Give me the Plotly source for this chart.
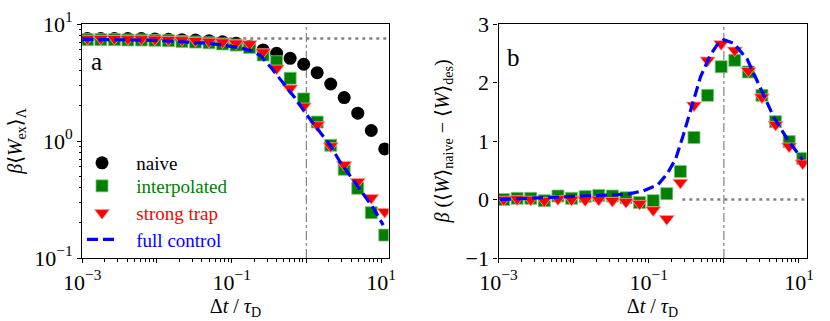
import plotly.graph_objects as go

# ---------------- data ----------------
dt = [0.00117, 0.00177, 0.00269, 0.00407, 0.00618, 0.00938, 0.01425, 0.0216,
      0.0328, 0.0498, 0.0755, 0.1146, 0.1738, 0.2636, 0.400, 0.607, 0.921,
      1.397, 2.12, 3.21, 4.88, 7.40, 11.2]

# panel a : beta <W_ex>_Lambda
naive_a = [7.5, 7.5, 7.5, 7.5, 7.5, 7.45, 7.4, 7.35, 7.3, 7.2, 7.05, 6.85, 6.45,
           6.0, 5.62, 5.09, 4.53, 3.84, 3.07, 2.35, 1.73, 1.23, 0.855]
interp_a = [7.35, 7.35, 7.35, 7.3, 7.3, 7.25, 7.2, 7.1, 7.0, 6.9, 6.75, 6.6, 6.3,
            5.43, 4.76, 3.44, 2.29, 1.45, 0.918, 0.573, 0.394, 0.244, 0.157]
strong_a = [7.5, 7.5, 7.5, 7.45, 7.45, 7.4, 7.35, 7.3, 7.2, 7.1, 7.0, 6.85, 6.75,
            5.75, 4.18, 2.82, 1.98, 1.37, 0.906, 0.627, 0.449, 0.327, 0.249]
full_x_a = [0.001, 0.005, 0.0093, 0.0155, 0.0257, 0.0457, 0.0776, 0.129, 0.186,
            0.245, 0.343, 0.49, 0.74, 1.06, 1.51, 2.07, 2.82, 3.8, 5.75, 7.94, 10.7]
full_y_a = [7.4, 7.35, 7.25, 7.12, 7.0, 6.85, 6.6, 6.25, 5.9, 5.35, 4.18, 3.11,
            2.24, 1.61, 1.20, 0.925, 0.665, 0.51, 0.357, 0.266, 0.191]
plateau_a = 7.5

# panel b : beta (<W>_naive - <W>_des)
interp_b = [0.0, 0.02, 0.02, -0.02, 0.06, 0.02, 0.05, 0.07, 0.06, 0.03, -0.05,
            -0.02, 0.10, 0.48, 1.06, 1.78, 2.27, 2.38, 2.18, 1.78, 1.33, 0.99, 0.70]
strong_b = [0.0, 0.01, 0.0, -0.02, 0.01, 0.0, -0.01, 0.0, -0.02, -0.04, -0.07,
            -0.18, -0.33, 0.29, 1.61, 2.38, 2.66, 2.55, 2.2, 1.75, 1.28, 0.91, 0.62]
full_x_b = [0.00105, 0.0066, 0.0229, 0.0525, 0.0851, 0.132, 0.178, 0.229, 0.288,
            0.380, 0.490, 0.661, 0.851, 1.0, 1.35, 2.04, 3.09, 4.57, 7.08, 11.2]
full_y_b = [0.0, 0.04, 0.07, 0.09, 0.15, 0.25, 0.45, 0.70, 1.1, 1.62, 2.1, 2.47,
            2.68, 2.73, 2.67, 2.40, 1.88, 1.42, 1.02, 0.68]
zero_line_x_b = [0.28, 12.6]

x_major = [1e-3, 1e-2, 1e-1, 1, 10]
x_major_text = ["10<sup>−3</sup>", "", "10<sup>−1</sup>", "", "10<sup>1</sup>"]
ya_major = [0.1, 1, 10]
ya_major_text = ["10<sup>−1</sup>", "10<sup>0</sup>", "10<sup>1</sup>"]
yb_ticks = [-1, 0, 1, 2, 3]
yb_text = ["−1", "0", "1", "2", "3"]

x_minor = [m * d for d in [1e-3, 1e-2, 1e-1, 1, 10] for m in range(2, 10)]
ya_minor = [m * d for d in [0.1, 1] for m in range(2, 10)]

# ---------------- style ----------------
FONT = "Liberation Serif, DejaVu Serif, serif"
GREEN, RED, BLUE, GRAY = "#008000", "#ff0000", "#0000ff", "#808080"
XMAX = 12.6
SP = "\u00a0\u00a0\u00a0"

fig = go.Figure()

# reference lines (drawn first, beneath markers)
fig.add_trace(go.Scatter(x=[1e-3, XMAX], y=[plateau_a, plateau_a], mode="lines",
                         line=dict(color=GRAY, width=2.5, dash="3px,4px"),
                         showlegend=False, hoverinfo="skip", xaxis="x", yaxis="y"))
fig.add_trace(go.Scatter(x=[1, 1], y=[0.1, 10], mode="lines",
                         line=dict(color=GRAY, width=1.2, dash="dashdot"),
                         showlegend=False, hoverinfo="skip", xaxis="x", yaxis="y"))
fig.add_trace(go.Scatter(x=zero_line_x_b, y=[0, 0], mode="lines",
                         line=dict(color=GRAY, width=2.5, dash="3px,4px"),
                         showlegend=False, hoverinfo="skip", xaxis="x2", yaxis="y2"))
fig.add_trace(go.Scatter(x=[1, 1], y=[-1, 3], mode="lines",
                         line=dict(color=GRAY, width=1.2, dash="dashdot"),
                         showlegend=False, hoverinfo="skip", xaxis="x2", yaxis="y2"))

mk_sq = dict(symbol="square", size=12, color=GREEN, line=dict(color="#7fc47f", width=0.8))
mk_tr = dict(symbol="triangle-down", size=13, color=RED, line=dict(color="#ff9a9a", width=0.8))
mk_ci = dict(symbol="circle", size=13, color="black", line=dict(width=0))
ln_fc = dict(color=BLUE, width=3.2, dash="11px,5px")

# panel a
fig.add_trace(go.Scatter(x=dt, y=naive_a, mode="markers", marker=mk_ci,
                         name=SP + "naive", legend="legend", xaxis="x", yaxis="y"))
fig.add_trace(go.Scatter(x=dt, y=interp_a, mode="markers", marker=mk_sq,
                         name=SP + "<span style='color:#008000'>interpolated</span>",
                         legend="legend2", xaxis="x", yaxis="y"))
fig.add_trace(go.Scatter(x=dt, y=strong_a, mode="markers", marker=mk_tr,
                         name=SP + "<span style='color:#ff0000'>strong trap</span>",
                         legend="legend3", xaxis="x", yaxis="y"))
fig.add_trace(go.Scatter(x=full_x_a, y=full_y_a, mode="lines", line=ln_fc,
                         name=SP + "<span style='color:#0000ff'>full control</span>",
                         legend="legend4", xaxis="x", yaxis="y"))

# panel b
fig.add_trace(go.Scatter(x=dt, y=interp_b, mode="markers", marker=mk_sq,
                         showlegend=False, xaxis="x2", yaxis="y2"))
fig.add_trace(go.Scatter(x=dt, y=strong_b, mode="markers", marker=mk_tr,
                         showlegend=False, xaxis="x2", yaxis="y2"))
fig.add_trace(go.Scatter(x=full_x_b, y=full_y_b, mode="lines", line=ln_fc,
                         showlegend=False, xaxis="x2", yaxis="y2"))

W, H = 830, 321
L_dom = [82.3 / W, 388.5 / W]
R_dom = [498.5 / W, 806.5 / W]
Y_dom = [(H - 258) / H, (H - 24) / H]

axis_common = dict(showline=True, linecolor="black", linewidth=1.3, mirror=True,
                   ticks="outside", ticklen=4, tickwidth=1, tickcolor="black",
                   showgrid=False, zeroline=False, automargin=False,
                   tickfont=dict(family=FONT, size=22, color="black"))
xtitle = dict(text="Δ<i>t</i> / <i>τ</i><sub>D</sub>",
              font=dict(family=FONT, size=20, color="black"), standoff=0)


def leg(top_px):
    return dict(x=82 / W, y=1 - top_px / H, xanchor="left", yanchor="top",
                bgcolor="rgba(0,0,0,0)", borderwidth=0,
                font=dict(family=FONT, size=19, color="black"))


fig.update_layout(
    width=W, height=H, margin=dict(l=0, r=0, t=0, b=0, pad=0, autoexpand=False),
    paper_bgcolor="white", plot_bgcolor="white",
    font=dict(family=FONT, size=19, color="black"),
    xaxis=dict(axis_common, type="log", domain=L_dom, range=[-3, 1.1],
               tickmode="array", tickvals=x_major, ticktext=x_major_text,
               minor=dict(tickmode="array", tickvals=x_minor, ticks="outside",
                          ticklen=2.5, tickcolor="black"),
               title=xtitle, anchor="y"),
    yaxis=dict(axis_common, type="log", domain=Y_dom, range=[-1, 1],
               tickmode="array", tickvals=ya_major, ticktext=ya_major_text,
               minor=dict(tickmode="array", tickvals=ya_minor, ticks="outside",
                          ticklen=2.5, tickcolor="black"),
               title=dict(text="<i>β</i>⟨<i>W</i><sub>ex</sub>⟩<sub>Λ</sub>",
                          font=dict(family=FONT, size=20, color="black"), standoff=6),
               anchor="x"),
    xaxis2=dict(axis_common, type="log", domain=R_dom, range=[-3, 1.1],
                tickmode="array", tickvals=x_major, ticktext=x_major_text,
                minor=dict(tickmode="array", tickvals=x_minor, ticks="outside",
                           ticklen=2.5, tickcolor="black"),
                title=xtitle, anchor="y2"),
    yaxis2=dict(axis_common, domain=Y_dom, range=[-1, 3],
                tickmode="array", tickvals=yb_ticks, ticktext=yb_text,
                title=dict(text="<i>β</i> (⟨<i>W</i>⟩<sub>naive</sub> − ⟨<i>W</i>⟩<sub>des</sub>)",
                           font=dict(family=FONT, size=20, color="black"), standoff=10),
                anchor="x2"),
    legend=leg(144),
    legend2=leg(167),
    legend3=leg(194),
    legend4=leg(220.5),
    annotations=[
        dict(text="a", xref="x domain", yref="y domain", x=0.047, y=0.84,
             showarrow=False, font=dict(family=FONT, size=25, color="black"),
             xanchor="center", yanchor="middle"),
        dict(text="b", xref="x2 domain", yref="y2 domain", x=0.049, y=0.855,
             showarrow=False, font=dict(family=FONT, size=25, color="black"),
             xanchor="center", yanchor="middle"),
    ],
    showlegend=True,
)

fig.write_html("out.html", config={"displayModeBar": False},
               post_script="document.body.style.margin='0px';document.body.style.padding='0px';")
